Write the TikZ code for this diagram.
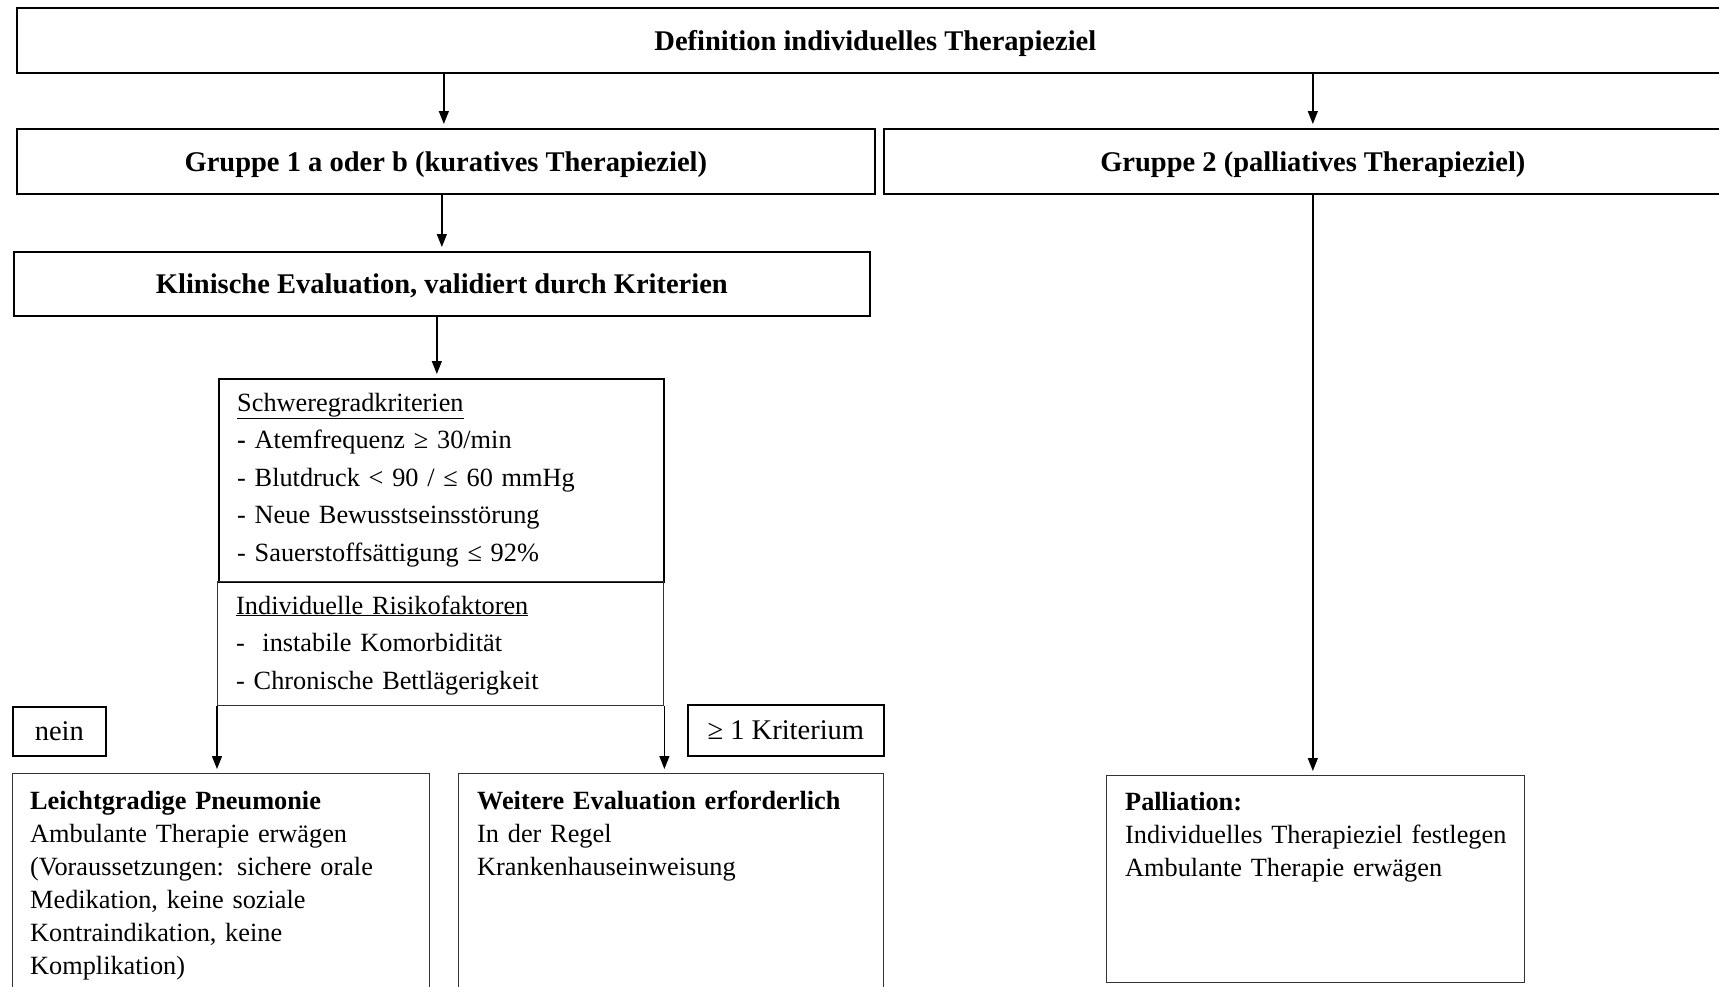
\documentclass[tikz,border=0pt]{standalone}
\usepackage{fontspec}
\setmainfont{Liberation Serif}
\usetikzlibrary{arrows.meta,calc}
\tikzset{
  box/.style={draw=black, line width=1.7pt, rectangle, inner sep=0pt, anchor=north west},
  thinbox/.style={draw=black!80, line width=1.4pt, rectangle, inner sep=0pt, anchor=north west},
  head/.style={font=\fontsize{28.5}{34}\selectfont\bfseries, text depth=0pt},
  lbl/.style={font=\fontsize{28.5}{34}\selectfont},
  body/.style={font=\fontsize{26.3}{33}\selectfont, text width=390pt, align=left, anchor=base west, inner sep=0pt},
  crit/.style={font=\fontsize{26.3}{37.5}\selectfont, text width=420pt, align=left, anchor=base west, inner sep=0pt},
  arr/.style={line width=1.3pt, -{Triangle[length=13pt,width=10pt]}, shorten >=4pt}
}
\begin{document}
\begin{tikzpicture}[x=1pt,y=-1pt]
\useasboundingbox (0,0) rectangle (1719,986);
\clip (0,0) rectangle (1719,986);
% boxes
\node[box, head, minimum width=1717pt, minimum height=65pt] (top) at (16,7) {Definition individuelles Therapieziel};
\node[box, head, minimum width=858pt, minimum height=65pt] (g1) at (16,128) {Gruppe 1 a oder b (kuratives Therapieziel)};
\node[box, head, minimum width=858pt, minimum height=65pt] (g2) at (883,128) {Gruppe 2 (palliatives Therapieziel)};
\node[box, head, minimum width=856pt, minimum height=64pt] (klin) at (13,251) {Klinische Evaluation, validiert durch Kriterien};
\node[box, minimum width=445pt, minimum height=203pt] (schwere) at (218,378) {};
\node[thinbox, minimum width=446pt, minimum height=124pt] (risiko) at (217,581) {};
\node[box, lbl, minimum width=93pt, minimum height=49pt] (nein) at (12,706) {nein};
\node[box, lbl, minimum width=196pt, minimum height=51pt] (krit) at (687,704) {≥ 1 Kriterium};
\node[thinbox, minimum width=417pt, minimum height=240pt] (leicht) at (12,773) {};
\node[thinbox, minimum width=425pt, minimum height=240pt] (weitere) at (458,773) {};
\node[thinbox, minimum width=418pt, minimum height=207pt] (pall) at (1106,775) {};
% texts
\node[crit] (tschwere) at (237,411) {\underline{Schweregradkriterien}\\
\textbf{-} Atemfrequenz ≥ 30/min\\
- Blutdruck < 90 / ≤ 60 mmHg\\
- Neue Bewusstseinsstörung\\
- Sauerstoffsättigung ≤ 92\%};
\node[crit] (trisiko) at (236,614) {\underline{Individuelle Risikofaktoren}\\
-\ \ instabile Komorbidität\\
- Chronische Bettlägerigkeit};
\node[body] (tleicht) at (30,809) {\textbf{Leichtgradige Pneumonie}\\
Ambulante Therapie erwägen\\
(Voraussetzungen: sichere orale\\
Medikation, keine soziale\\
Kontraindikation, keine\\
Komplikation)};
\node[body] (tweitere) at (477,809) {\textbf{Weitere Evaluation erforderlich}\\
In der Regel\\
Krankenhauseinweisung};
\node[body] (tpall) at (1125,810) {\textbf{Palliation:}\\
Individuelles Therapieziel festlegen\\
Ambulante Therapie erwägen};
% connectors
\draw[arr] ([xshift=-2pt]g1.north |- top.south) -- ([xshift=-2pt]g1.north);
\draw[arr] (g2.north |- top.south) -- (g2.north);
\draw[arr] (klin.north |- g1.south) -- (klin.north);
\draw[arr] ([xshift=-5pt]klin.south) -- ([xshift=-5pt]klin.south |- schwere.north);
\draw[arr] (risiko.south west) -- (risiko.south west |- leicht.north);
\draw[arr] (risiko.south east) -- (risiko.south east |- weitere.north);
\draw[arr] (g2.south) -- (g2.south |- pall.north);
\end{tikzpicture}
\end{document}
